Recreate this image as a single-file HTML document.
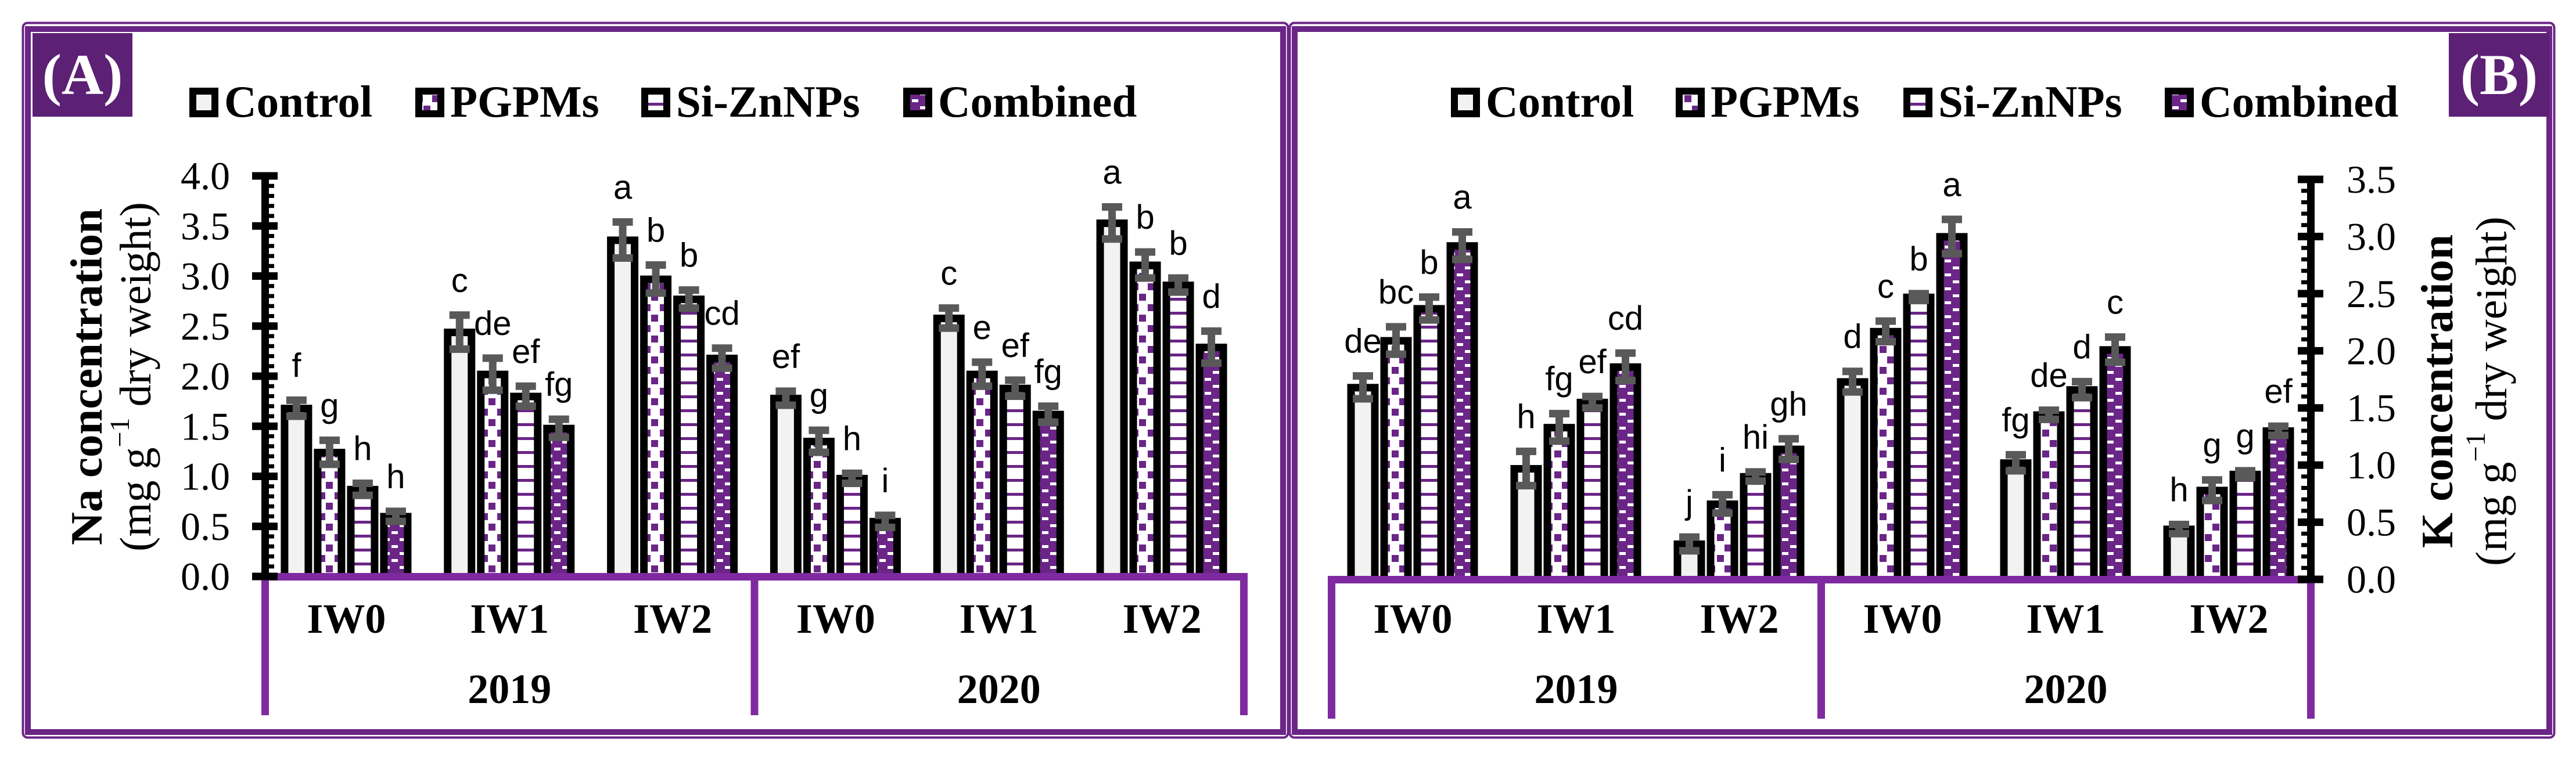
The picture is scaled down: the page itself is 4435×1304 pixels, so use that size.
<!DOCTYPE html>
<html><head><meta charset="utf-8"><title>Na and K concentration</title>
<style>html,body{margin:0;padding:0;background:#fff}svg{display:block}</style></head>
<body>
<svg id="chart" xmlns="http://www.w3.org/2000/svg" width="4435" height="1304" viewBox="0 0 4435 1304">
<defs>
<pattern id="pPG" patternUnits="userSpaceOnUse" width="28" height="36"><rect width="28" height="36" fill="#fff"/><rect x="1" y="2" width="12" height="12" fill="#6a2587"/><rect x="16" y="20" width="12" height="12" fill="#6a2587"/></pattern>
<pattern id="pSZ" patternUnits="userSpaceOnUse" width="28" height="24"><rect width="28" height="24" fill="#fff"/><rect x="0" y="9" width="28" height="5" fill="#6a2587"/></pattern>
<pattern id="pCB" patternUnits="userSpaceOnUse" width="28" height="24"><rect width="28" height="24" fill="#6a2587"/><rect x="2" y="3" width="11" height="5" fill="#fff"/><rect x="16" y="15" width="11" height="5" fill="#fff"/></pattern>
</defs>
<g id="layer"></g>
</svg>
<script>
const groups = ["IW0","IW1","IW2","IW0","IW1","IW2"];
const years = ["2019","2020"];
const seriesNames = ["Control","PGPMs","Si-ZnNPs","Combined"];
// Panel A: Na concentration (per group: Control, PGPMs, Si-ZnNPs, Combined)
const naControl  = [1.68, 2.44, 3.36, 1.78, 2.58, 3.53];
const naPGPMs    = [1.24, 2.02, 2.97, 1.35, 2.02, 3.11];
const naSiZn     = [0.87, 1.80, 2.77, 0.98, 1.88, 2.91];
const naCombined = [0.60, 1.48, 2.18, 0.55, 1.62, 2.29];
const naErrControl  = [0.08, 0.17, 0.18, 0.07, 0.10, 0.16];
const naErrPGPMs    = [0.12, 0.16, 0.14, 0.11, 0.12, 0.13];
const naErrSiZn     = [0.06, 0.10, 0.09, 0.05, 0.08, 0.07];
const naErrCombined = [0.05, 0.09, 0.10, 0.06, 0.08, 0.16];
const naLetters = [["f","g","h","h"],["c","de","ef","fg"],["a","b","b","cd"],["ef","g","h","i"],["c","e","ef","fg"],["a","b","b","d"]];
const naTicks = ["0.0","0.5","1.0","1.5","2.0","2.5","3.0","3.5","4.0"];
// Panel B: K concentration
const kControl  = [1.68, 0.97, 0.31, 1.73, 1.02, 0.44];
const kPGPMs    = [2.09, 1.33, 0.66, 2.17, 1.44, 0.78];
const kSiZn     = [2.37, 1.55, 0.90, 2.47, 1.66, 0.92];
const kCombined = [2.92, 1.86, 1.14, 3.00, 2.01, 1.30];
const kErrControl  = [0.10, 0.15, 0.06, 0.09, 0.07, 0.04];
const kErrPGPMs    = [0.12, 0.12, 0.08, 0.09, 0.04, 0.09];
const kErrSiZn     = [0.10, 0.05, 0.04, 0.03, 0.07, 0.03];
const kErrCombined = [0.12, 0.12, 0.09, 0.15, 0.11, 0.04];
const kLetters = [["de","bc","b","a"],["h","fg","ef","cd"],["j","i","hi","gh"],["d","c","b","a"],["fg","de","d","c"],["h","g","g","ef"]];
const kTicks = ["0.0","0.5","1.0","1.5","2.0","2.5","3.0","3.5"];

const NS = "http://www.w3.org/2000/svg";
const layer = document.getElementById("layer");
const PURPLE = "#6b2587", BOXP = "#7f2aa0";
const fills = ["#f2f2f2","url(#pPG)","url(#pSZ)","url(#pCB)"];
function mk(tag, attrs, parent, text){
  const e = document.createElementNS(NS, tag);
  for (const k in attrs) e.setAttribute(k, attrs[k]);
  if (text !== undefined) e.textContent = text;
  (parent || layer).appendChild(e);
  return e;
}

function drawPanel(p){
  const g = mk("g", {});
  
  
  let fr = mk("rect", {x:p.fx+1.5, y:39.5, width:p.fw-3, height:1231, fill:"none", stroke:PURPLE, "stroke-width":4, rx:8}, g);
  
  
  fr = mk("rect", {x:p.fx+10, y:50, width:p.fw-20, height:1211, fill:"none", stroke:PURPLE, "stroke-width":10}, g);
  
  
  const lb = mk("rect", {x:p.lx, y:57, width:p.lw, height:144, fill:"#5c2075"}, g);
  
  
  const lt = mk("text", {x:p.lx+p.lw/2, y:162, "text-anchor":"middle", "font-family":"Liberation Serif, serif", "font-weight":"bold", "font-size":100, fill:"#fff"}, g, p.label);
  
  
  for (let i=0;i<4;i++){
    const lg = mk("g", {}, g);
    
    
    mk("rect", {x:p.legX[i], y:151, width:50, height:51, fill:"#000"}, lg);
    mk("rect", {x:p.legX[i]+12, y:163, width:26, height:27, fill:fills[i]}, lg);
    mk("text", {x:p.legX[i]+60, y:201, "font-family":"Liberation Serif, serif", "font-weight":"bold", "font-size":77, fill:"#000"}, lg, seriesNames[i]);
  }
  const y = v => p.y0 - v * (p.y0 - p.yTop) / p.vmax;
  const gw = (p.x1 - p.x0) / 6;
  for (let k=0;k<6;k++){
    const gc = p.x0 + gw*(k+0.5);
    for (let i=0;i<4;i++){
      const v = p.vals[i][k], e = p.errs[i][k];
      const bx = gc - 113 + i*57;
      const bg = mk("g", {}, g);
      
      
      const top = y(v) - 6;
      mk("rect", {x:bx, y:top, width:54, height:p.y0-top, fill:"#000"}, bg);
      mk("rect", {x:bx+13, y:top+13, width:28, height:Math.max(0,p.y0-top-13), fill:fills[i]}, bg);
      const cx = bx + 27, yt = y(v+e), yb = y(v-e);
      const eb = mk("g", {fill:"#595959"}, g);
      
      
      mk("rect", {x:cx-6.5, y:yt, width:13, height:yb-yt}, eb);
      mk("rect", {x:cx-17.5, y:yt-6.5, width:35, height:13}, eb);
      mk("rect", {x:cx-17.5, y:yb-6.5, width:35, height:13}, eb);
      const lt2 = mk("text", {x:cx, y:yt-40, "text-anchor":"middle", "font-family":"Liberation Sans, sans-serif", "font-size":58, fill:"#000"}, g, p.letters[k][i]);
      
      
    }
  }
  const cb = mk("g", {fill:BOXP}, g);
  
  
  mk("rect", {x:p.x0-6, y:p.y0-6, width:p.x1-p.x0+12, height:13}, cb);
  const xm = (p.x0+p.x1)/2;
  [p.x0, xm, p.x1].forEach(xx => mk("rect", {x:xx-6, y:p.y0-6, width:13, height:p.boxB-p.y0+6}, cb));
  for (let k=0;k<6;k++){
    const t = mk("text", {x:p.x0+gw*(k+0.5), y:1090, "text-anchor":"middle", "font-family":"Liberation Serif, serif", "font-weight":"bold", "font-size":72, fill:"#000"}, g, groups[k]);
    
    
  }
  for (let j=0;j<2;j++){
    const t = mk("text", {x:p.x0+gw*(3*j+1.5), y:1211, "text-anchor":"middle", "font-family":"Liberation Serif, serif", "font-weight":"bold", "font-size":72, fill:"#000"}, g, years[j]);
    
    
  }
  const ax = mk("g", {fill:"#000"}, g);
  
  
  mk("rect", {x:p.ax-6, y:p.yTop-6, width:13, height:p.y0-p.yTop+12}, ax);
  const nMinor = Math.round(p.vmax/0.1);
  for (let m=0;m<=nMinor;m++){
    const yy = y(m*0.1);
    if (m%5===0) mk("rect", {x:p.ax-22, y:yy-6.5, width:44, height:13}, ax);
    else mk("rect", {x:p.minorSide>0 ? p.ax+6 : p.ax-16, y:yy-3.5, width:10, height:7}, ax);
  }
  p.ticks.forEach((lab, idx) => {
    const t = mk("text", {x:p.tickX, y:y(idx*0.5)+23, "text-anchor":p.tickAnchor, "font-family":"Liberation Serif, serif", "font-size":68, fill:"#000"}, g, lab);
    
    
  });
  const t1 = mk("text", {x:p.t1x, y:p.tcy, transform:`rotate(-90 ${p.t1x} ${p.tcy})`, "text-anchor":"middle", "dominant-baseline":"central", "font-family":"Liberation Serif, serif", "font-weight":"bold", "font-size":77, fill:"#000", textLength:p.t1len, lengthAdjust:"spacingAndGlyphs"}, g, p.title);
  
  
  const t2 = mk("text", {x:p.t2x, y:p.tcy, transform:`rotate(-90 ${p.t2x} ${p.tcy})`, "text-anchor":"middle", "dominant-baseline":"central", "font-family":"Liberation Serif, serif", "font-size":76, fill:"#000"}, g);
  
  
  mk("tspan", {}, t2, "(mg g");
  mk("tspan", {"font-size":48, dy:-28}, t2, "\u22121");
  mk("tspan", {dy:28}, t2, " dry weight)");
}

drawPanel({name:"panel-a-na", label:"(A)", fx:38, fw:2181, lx:56, lw:172,
  legX:[326,715,1104,1555], x0:456, x1:2141, y0:993, yTop:303, vmax:4, boxB:1232,
  vals:[naControl,naPGPMs,naSiZn,naCombined], errs:[naErrControl,naErrPGPMs,naErrSiZn,naErrCombined],
  letters:naLetters, ticks:naTicks, ax:456, minorSide:1, tickX:396, tickAnchor:"end",
  title:"Na concentration", t1len:580, t1x:149, t2x:234, tcy:649});
drawPanel({name:"panel-b-k", label:"(B)", fx:2219, fw:2180, lx:4216, lw:173,
  legX:[2498,2885,3277,3727], x0:2292, x1:3978, y0:998, yTop:309, vmax:3.5, boxB:1238,
  vals:[kControl,kPGPMs,kSiZn,kCombined], errs:[kErrControl,kErrPGPMs,kErrSiZn,kErrCombined],
  letters:kLetters, ticks:kTicks, ax:3978, minorSide:-1, tickX:4040, tickAnchor:"start",
  title:"K concentration", t1len:540, t1x:4196, t2x:4290, tcy:674});
</script>
</body></html>
